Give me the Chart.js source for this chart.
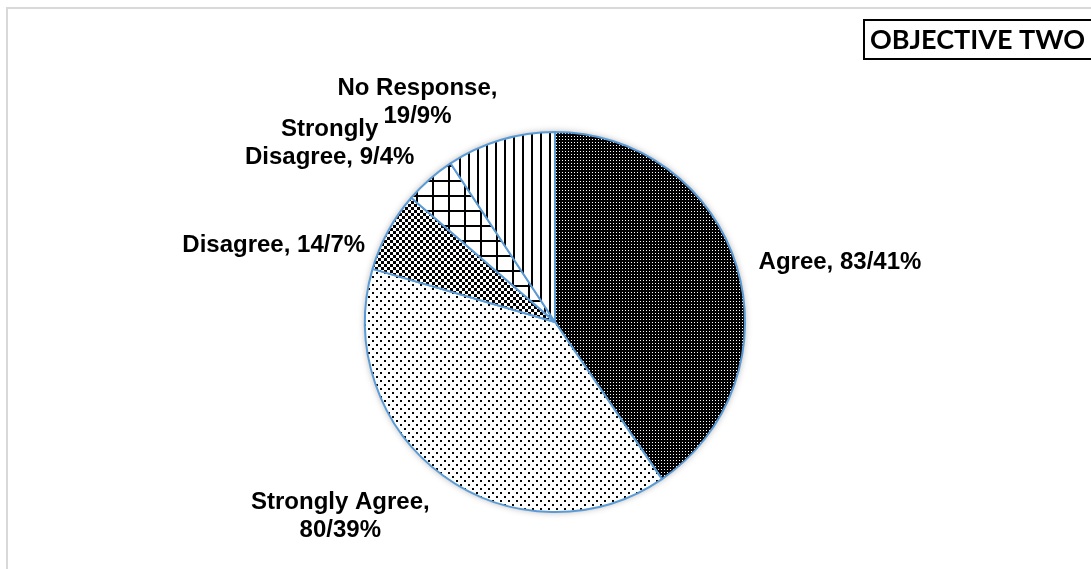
<!DOCTYPE html>
<html><head><meta charset="utf-8">
<script src="https://cdn.jsdelivr.net/npm/chart.js@4.4.1/dist/chart.umd.min.js"></script>
<style>
html,body{margin:0;padding:0;background:#fff;}
#wrap{position:relative;width:1091px;height:569px;overflow:hidden;}
#c{position:absolute;left:0;top:0;}
</style></head><body>
<div id="wrap"><canvas id="c" width="1091" height="569"></canvas></div>
<script>
// ---- data ----
const categories = ['Agree', 'Strongly Agree', 'Disagree', 'Strongly Disagree', 'No Response'];
const counts = [83, 80, 14, 9, 19];
const percents = [41, 39, 7, 4, 9];
const chartTitle = 'OBJECTIVE TWO';

// ---- label layout (offsets from slice outer mid-point) ----
const labelLayout = [
  {dx: 22, dy: -4, align: 'left', wrap: 'none'},
  {dx: -103, dy: 41, align: 'center', wrap: 'comma'},
  {dx: -23, dy: 14, align: 'right', wrap: 'none'},
  {dx: -100, dy: -35.5, align: 'center', wrap: 'first'},
  {dx: -83, dy: -37.5, align: 'center', wrap: 'comma'}
];

function makePattern(w, h, bg, fg, draw) {
  const c = document.createElement('canvas');
  c.width = w; c.height = h;
  const x = c.getContext('2d');
  x.fillStyle = bg; x.fillRect(0, 0, w, h);
  x.fillStyle = fg;
  draw(x);
  return document.getElementById('c').getContext('2d').createPattern(c, 'repeat');
}
const patterns = [
  makePattern(3, 3, '#000', '#fff', x => { x.fillRect(1,1,1,1); }),
  makePattern(8, 8, '#fff', '#000', x => { x.fillRect(0,0,2,2); x.fillRect(4,4,2,2); }),
  makePattern(6, 6, '#fff', '#000', x => { x.fillRect(0,0,3,3); x.fillRect(3,3,3,3); }),
  makePattern(16, 15, '#fff', '#000', x => { x.fillRect(0,0,16,2); x.fillRect(0,0,2,15); }),
  makePattern(9, 9, '#fff', '#000', x => { x.fillRect(0,0,2,9); })
];

function labelLines(i) {
  const text = categories[i] + ', ' + counts[i] + '/' + percents[i] + '%';
  const mode = labelLayout[i].wrap;
  if (mode === 'comma') {
    const k = text.indexOf(', ');
    return [text.slice(0, k + 1), text.slice(k + 2)];
  }
  if (mode === 'first') {
    const k = text.indexOf(' ');
    return [text.slice(0, k), text.slice(k + 1)];
  }
  return [text];
}

const decor = {
  id: 'decor',
  beforeDraw(chart) {
    const ctx = chart.ctx;
    ctx.save();
    ctx.fillStyle = '#fff';
    ctx.fillRect(0, 0, chart.width, chart.height);
    ctx.strokeStyle = '#d9d9d9';
    ctx.lineWidth = 2;
    ctx.strokeRect(7, 8, chart.width + 20, chart.height + 20);
    ctx.restore();
  },
  beforeDatasetsDraw(chart) {
    const ctx = chart.ctx;
    const arc = chart.getDatasetMeta(0).data[0];
    if (!arc) return;
    const p = arc.getProps(['x', 'y', 'outerRadius'], true);
    ctx.save();
    ctx.shadowColor = 'rgba(0,0,0,0.35)';
    ctx.shadowBlur = 7;
    ctx.fillStyle = '#fff';
    ctx.beginPath();
    ctx.arc(p.x, p.y, p.outerRadius, 0, Math.PI * 2);
    ctx.fill();
    ctx.restore();
  },
  afterDraw(chart) {
    const ctx = chart.ctx;
    const meta = chart.getDatasetMeta(0);
    ctx.save();
    ctx.fillStyle = '#000';
    ctx.font = 'bold 24px "Liberation Sans", Arial, sans-serif';
    ctx.textBaseline = 'middle';
    const lh = 28;
    meta.data.forEach((arc, i) => {
      const p = arc.getProps(['x', 'y', 'startAngle', 'endAngle', 'outerRadius'], true);
      const mid = (p.startAngle + p.endAngle) / 2;
      const ax = p.x + Math.cos(mid) * p.outerRadius;
      const ay = p.y + Math.sin(mid) * p.outerRadius;
      const L = labelLayout[i];
      const lines = labelLines(i);
      const cx = ax + L.dx, cy = ay + L.dy;
      ctx.textAlign = L.align;
      lines.forEach((ln, j) => {
        ctx.fillText(ln, cx, cy + (j - (lines.length - 1) / 2) * lh);
      });
    });
    // title box
    ctx.strokeStyle = '#000';
    ctx.lineWidth = 2;
    ctx.strokeRect(864, 20, 230, 39);
    ctx.font = 'bold 27px Lato, "Open Sans", sans-serif';
    ctx.textAlign = 'left';
    ctx.fillText(chartTitle, 870, 40);
    ctx.restore();
  }
};

new Chart(document.getElementById('c'), {
  type: 'pie',
  data: {
    labels: categories,
    datasets: [{
      data: counts,
      backgroundColor: patterns,
      borderColor: '#5b9bd5',
      borderWidth: 2,
      radius: 190
    }]
  },
  options: {
    responsive: false,
    animation: false,
    layout: {padding: {left: 365, right: 346, top: 132, bottom: 57}},
    plugins: {legend: {display: false}, tooltip: {enabled: false}, title: {display: false}}
  },
  plugins: [decor]
});
</script>
</body></html>
